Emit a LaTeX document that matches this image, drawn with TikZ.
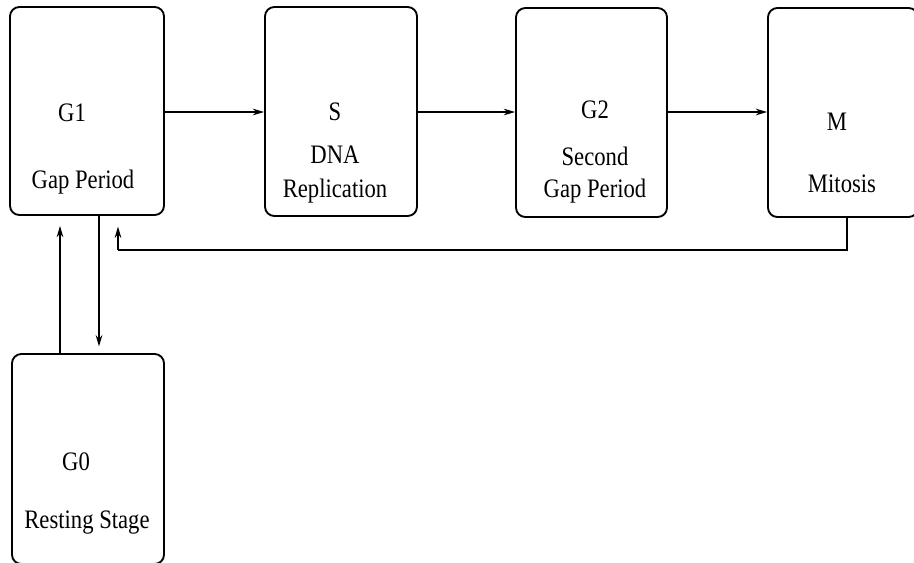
\documentclass[tikz,border=0pt]{standalone}
\usepackage{fontspec}
\setmainfont{Liberation Serif}[FakeStretch=0.85]
\usetikzlibrary{arrows.meta}
\begin{document}
\begin{tikzpicture}[x=0.75pt,y=-0.75pt,
  box/.style={draw, line width=1.4pt, rounded corners=7pt, inner sep=0pt},
  lbl/.style={anchor=base, inner sep=0pt, font=\fontsize{20}{24}\selectfont},
  conn/.style={line width=1pt, -{Stealth[length=8.5pt,width=5pt]}},
  plain/.style={line width=1pt}]
\useasboundingbox (0,0) rectangle (914,562);
\clip (0,0) rectangle (914,562);
% boxes
\node[box, minimum width=154*0.75pt, minimum height=208*0.75pt] (g1) at (87,111) {};
\node[box, minimum width=152*0.75pt, minimum height=209*0.75pt] (s) at (341,111.5) {};
\node[box, minimum width=151*0.75pt, minimum height=209*0.75pt] (g2) at (591.5,112.5) {};
\node[box, minimum width=150*0.75pt, minimum height=209*0.75pt] (m) at (843,112.5) {};
\node[box, minimum width=152*0.75pt, minimum height=210*0.75pt] (g0) at (88,459) {};
% labels
\node[lbl] (t1) at (72,121) {G1};
\node[lbl] (t2) at (83,188) {Gap Period};
\node[lbl] (t3) at (335,120) {S};
\node[lbl] (t4) at (335,163) {DNA};
\node[lbl] (t5) at (335,197) {Replication};
\node[lbl] (t6) at (595,118) {G2};
\node[lbl] (t7) at (595,165) {Second};
\node[lbl] (t8) at (595,197) {Gap Period};
\node[lbl] (t9) at (837,130) {M};
\node[lbl] (t10) at (842,192) {Mitosis};
\node[lbl] (t11) at (76,470) {G0};
\node[lbl] (t12) at (87,528) {Resting Stage};
% connectors
\draw[conn] (g1.east |- 0,112) -- (s.west |- 0,112);
\draw[conn] (s.east |- 0,112) -- (g2.west |- 0,112);
\draw[conn] (g2.east |- 0,112) -- (m.west |- 0,112);
\coordinate (mb) at (847,250);
\coordinate (gb) at (118,250);
\draw[plain] (m.south -| mb) -- (mb) -- (gb);
\draw[conn, shorten >=8pt] (gb) -- (g1.south -| gb);
\draw[conn, shorten >=5pt] (g1.south -| 99,0) -- (g0.north -| 99,0);
\draw[conn, shorten >=7.5pt] (g0.north -| 60,0) -- (g1.south -| 60,0);
\end{tikzpicture}
\end{document}
